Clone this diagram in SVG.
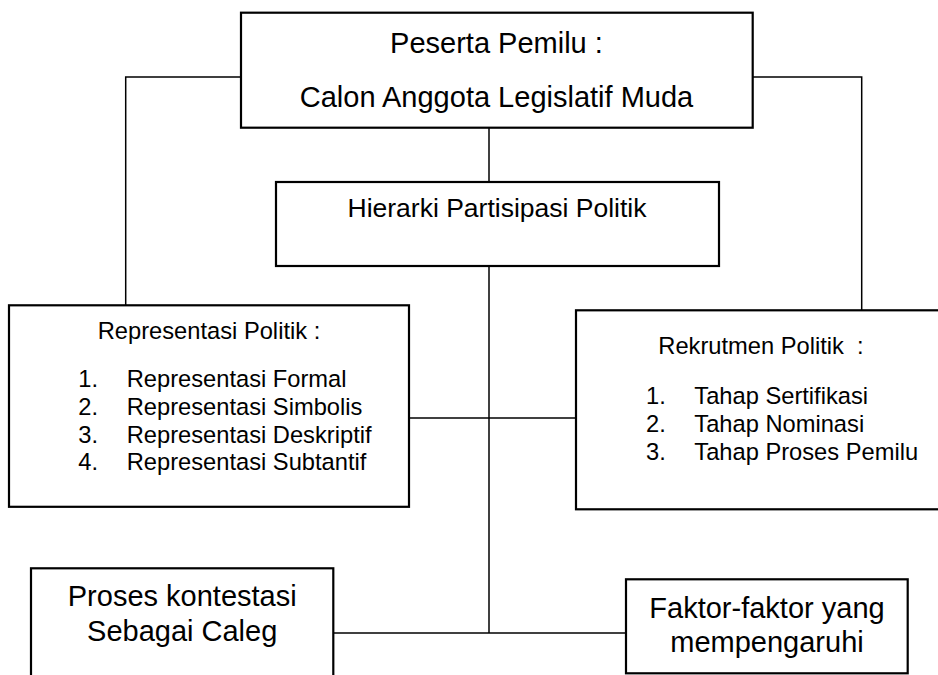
<svg xmlns="http://www.w3.org/2000/svg" width="938" height="675" viewBox="0 0 938 675">
<style>
.box{fill:#fff;stroke:#000;stroke-width:2.2}
.con{fill:none;stroke:#000;stroke-width:1.5}
text{font-family:"Liberation Sans",Arial,sans-serif;fill:#000}
.big{font-size:29px}
.mid{font-size:26.5px}
.sm{font-size:23.7px}
.c{text-anchor:middle}
</style>
<rect width="938" height="675" fill="#fff"/>
<g id="connectors">
<polyline class="con" points="241,77 125.7,77 125.7,305"/>
<polyline class="con" points="752.7,77 861.7,77 861.7,310"/>
<line class="con" x1="489" y1="128" x2="489" y2="182"/>
<line class="con" x1="489" y1="266" x2="489" y2="633"/>
<line class="con" x1="409" y1="418" x2="576" y2="418"/>
<line class="con" x1="333.3" y1="633" x2="626" y2="633"/>
</g>
<g id="peserta">
<rect class="box" x="241" y="12.7" width="511.7" height="115"/>
<text class="big c" x="496.5" y="52.5">Peserta Pemilu :</text>
<text class="big c" x="496.5" y="107">Calon Anggota Legislatif Muda</text>
</g>
<g id="hierarki">
<rect class="box" x="276" y="182" width="443" height="84"/>
<text class="mid c" x="497" y="216.7">Hierarki Partisipasi Politik</text>
</g>
<g id="representasi">
<rect class="box" x="9" y="305.3" width="400" height="201.5"/>
<text class="sm c" x="209" y="339">Representasi Politik :</text>
<text class="sm" x="78.3" y="387.3">1.</text>
<text class="sm" x="126.7" y="387.3">Representasi Formal</text>
<text class="sm" x="78.3" y="415">2.</text>
<text class="sm" x="126.7" y="415">Representasi Simbolis</text>
<text class="sm" x="78.3" y="442.7">3.</text>
<text class="sm" x="126.7" y="442.7">Representasi Deskriptif</text>
<text class="sm" x="78.3" y="470.3">4.</text>
<text class="sm" x="126.7" y="470.3">Representasi Subtantif</text>
</g>
<g id="rekrutmen">
<rect class="box" x="576" y="310.3" width="372" height="199"/>
<text class="sm" x="658.3" y="354.3" xml:space="preserve">Rekrutmen Politik  :</text>
<text class="sm" x="646" y="404.3">1.</text>
<text class="sm" x="694.3" y="404.3">Tahap Sertifikasi</text>
<text class="sm" x="646" y="432">2.</text>
<text class="sm" x="694.3" y="432">Tahap Nominasi</text>
<text class="sm" x="646" y="460">3.</text>
<text class="sm" x="694.3" y="460">Tahap Proses Pemilu</text>
</g>
<g id="proses">
<rect class="box" x="31" y="568.3" width="302.3" height="120"/>
<text class="big c" x="182.2" y="605.7">Proses kontestasi</text>
<text class="big c" x="182.2" y="641">Sebagai Caleg</text>
</g>
<g id="faktor">
<rect class="box" x="626" y="579.3" width="281.7" height="94"/>
<text class="big c" x="767" y="617.5">Faktor-faktor yang</text>
<text class="big c" x="767" y="651.7">mempengaruhi</text>
</g>
</svg>
